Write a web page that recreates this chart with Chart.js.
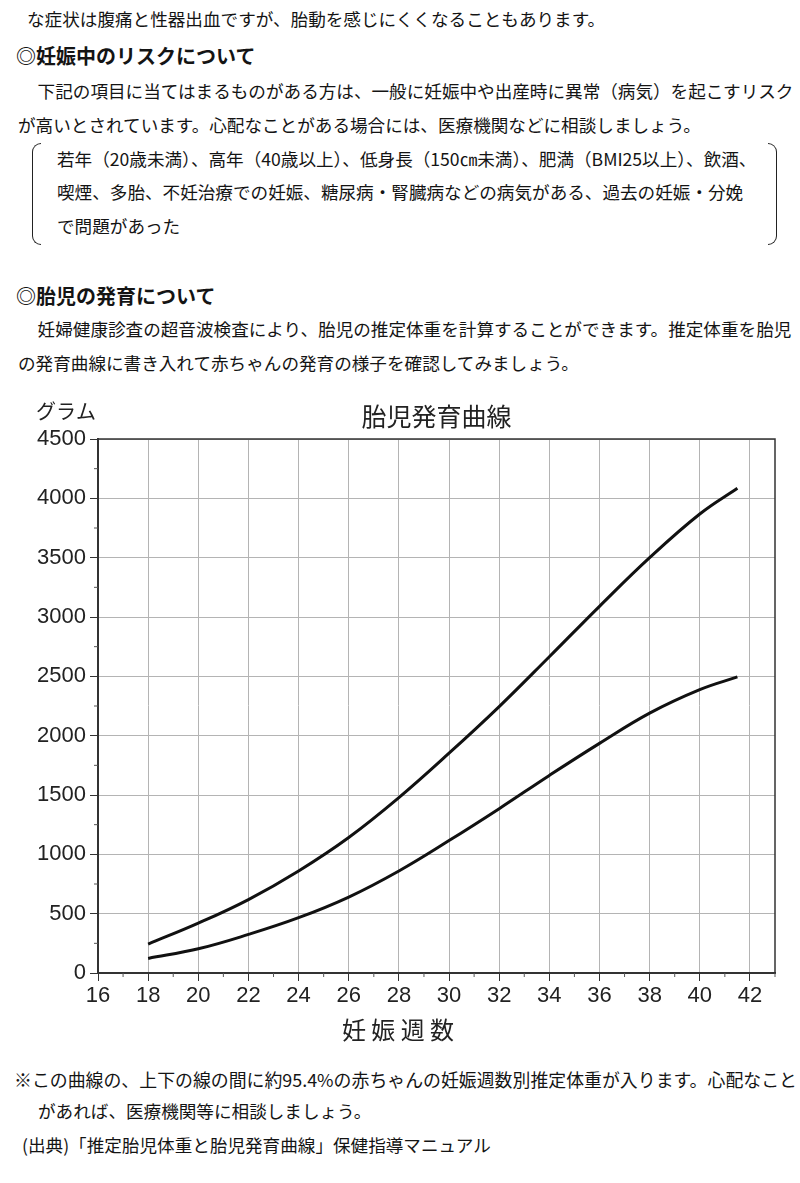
<!DOCTYPE html>
<html lang="ja">
<head>
    <meta charset="UTF-8">
    <title>胎児発育曲線</title>
    <script src="https://cdn.jsdelivr.net/npm/chart.js"></script>
    <style>
        body {
            margin: 0;
            width: 800px;
            height: 1183px;
            position: relative;
            overflow: hidden;
            background: #ffffff;
            color: #141414;
            font-family: "Noto Sans CJK JP", sans-serif;
        }
        .line {
            position: absolute;
            height: 24px;
            line-height: 24px;
            font-size: 17.6px;
            white-space: nowrap;
        }
        .head {
            font-size: 20px;
            font-weight: 700;
        }
        .brk {
            position: absolute;
            top: 143px;
            width: 8px;
            height: 100px;
            border: 1.5px solid #222;
        }
        #chartBox {
            position: absolute;
            left: 0;
            top: 390px;
            width: 800px;
            height: 660px;
        }
    </style>
</head>
<body>
    <div class="line" style="left:27px; top:7px;">な症状は腹痛と性器出血ですが、胎動を感じにくくなることもあります。</div>
    <div class="line head" style="left:16px; top:44px;">◎妊娠中のリスクについて</div>
    <div class="line" style="left:20px; top:79px;">　下記の項目に当てはまるものがある方は、一般に妊娠中や出産時に異常（病気）を起こすリスク</div>
    <div class="line" style="left:18px; top:113px;">が高いとされています。心配なことがある場合には、医療機関などに相談しましょう。</div>

    <div class="brk" style="left:32px; border-right:none; border-radius:10px 0 0 10px;"></div>
    <div class="brk" style="left:768px; border-left:none; border-radius:0 10px 10px 0;"></div>
    <div class="line" style="left:57px; top:147px;">若年（20歳未満）、高年（40歳以上）、低身長（150㎝未満）、肥満（BMI25以上）、飲酒、</div>
    <div class="line" style="left:57px; top:180px;">喫煙、多胎、不妊治療での妊娠、糖尿病・腎臓病などの病気がある、過去の妊娠・分娩</div>
    <div class="line" style="left:57px; top:214px;">で問題があった</div>

    <div class="line head" style="left:16px; top:284px;">◎胎児の発育について</div>
    <div class="line" style="left:20px; top:317px;">　妊婦健康診査の超音波検査により、胎児の推定体重を計算することができます。推定体重を胎児</div>
    <div class="line" style="left:18px; top:351px;">の発育曲線に書き入れて赤ちゃんの発育の様子を確認してみましょう。</div>

    <div id="chartBox"><canvas id="chart" width="800" height="660"></canvas></div>

    <div class="line" style="left:14px; top:1067px; font-size:17.9px;">※この曲線の、上下の線の間に約95.4%の赤ちゃんの妊娠週数別推定体重が入ります。心配なこと</div>
    <div class="line" style="left:38px; top:1099px;">があれば、医療機関等に相談しましょう。</div>
    <div class="line" style="left:22px; top:1133px;">(出典)「推定胎児体重と胎児発育曲線」保健指導マニュアル</div>

    <script>
        // 妊娠週数と推定体重（グラム）… 上の線 = +2.0SD, 下の線 = -2.0SD
        const weeks = [18, 20, 22, 24, 26, 28, 30, 32, 34, 36, 38, 40, 41.5];
        const upperWeights = [244, 420, 619, 860, 1142, 1478, 1852, 2245, 2665, 3090, 3500, 3868, 4085];
        const lowerWeights = [123, 204, 325, 466, 640, 860, 1116, 1385, 1665, 1935, 2190, 2388, 2495];

        const chartTitle = '胎児発育曲線';
        const yUnit = 'グラム';
        const xTitle = '妊 娠 週 数';
        const xMin = 16, xMax = 43, xStep = 2;
        const yMin = 0, yMax = 4500, yStep = 500;

        const toPoints = (ys) => weeks.map((w, i) => ({ x: w, y: ys[i] }));

        // 枠線・補助目盛・文字
        const extrasPlugin = {
            id: 'extras',
            afterDraw(chart) {
                const { ctx, chartArea: a, scales } = chart;
                ctx.save();
                ctx.strokeStyle = '#333';
                ctx.lineWidth = 1.5;
                ctx.beginPath();
                ctx.moveTo(a.left, a.top);
                ctx.lineTo(a.right, a.top);
                ctx.lineTo(a.right, a.bottom);
                ctx.stroke();

                // 補助目盛
                ctx.lineWidth = 1;
                ctx.strokeStyle = '#555';
                ctx.beginPath();
                for (let w = xMin + 1; w <= xMax; w += 2) {
                    const px = scales.x.getPixelForValue(w);
                    ctx.moveTo(px, a.bottom);
                    ctx.lineTo(px, a.bottom + 4);
                }
                for (let g = yMin + yStep / 2; g < yMax; g += yStep) {
                    const py = scales.y.getPixelForValue(g);
                    ctx.moveTo(a.left, py);
                    ctx.lineTo(a.left - 4, py);
                }
                ctx.stroke();

                ctx.fillStyle = '#222';
                ctx.textBaseline = 'middle';
                ctx.font = '20px "Noto Sans CJK JP"';
                ctx.textAlign = 'left';
                ctx.fillText(yUnit, 36, 21);
                ctx.font = '25px "Noto Sans CJK JP"';
                ctx.textAlign = 'center';
                ctx.fillText(chartTitle, (a.left + a.right) / 2, 26);
                ctx.font = '24px "Noto Sans CJK JP"';
                ctx.fillText(xTitle, 398, 640);
                ctx.restore();
            }
        };

        const lineStyle = {
            borderColor: '#111',
            borderWidth: 3,
            pointRadius: 0,
            fill: false,
            tension: 0.4
        };

        new Chart(document.getElementById('chart'), {
            type: 'line',
            data: {
                datasets: [
                    { label: '+2.0SD', data: toPoints(upperWeights), ...lineStyle },
                    { label: '-2.0SD', data: toPoints(lowerWeights), ...lineStyle }
                ]
            },
            options: {
                responsive: false,
                animation: false,
                devicePixelRatio: 1,
                layout: { padding: { top: 49, right: 25, left: 0, bottom: 0 } },
                plugins: {
                    legend: { display: false },
                    tooltip: { enabled: false }
                },
                scales: {
                    x: {
                        type: 'linear',
                        min: xMin,
                        max: xMax,
                        afterFit: (s) => { s.height = 77; },
                        ticks: {
                            stepSize: xStep,
                            includeBounds: false,
                            color: '#222',
                            padding: 2,
                            font: { family: '"Liberation Sans", Arial', size: 22 }
                        },
                        grid: { color: '#b4b4b4', lineWidth: 1, tickLength: 8, tickColor: '#333' },
                        border: { color: '#333', width: 2 }
                    },
                    y: {
                        min: yMin,
                        max: yMax,
                        afterFit: (s) => { s.width = 98; },
                        ticks: {
                            stepSize: yStep,
                            color: '#222',
                            padding: 4,
                            callback: (v) => String(v),
                            font: { family: '"Liberation Sans", Arial', size: 22 }
                        },
                        grid: { color: '#b4b4b4', lineWidth: 1, tickLength: 8, tickColor: '#333' },
                        border: { color: '#333', width: 2 }
                    }
                }
            },
            plugins: [extrasPlugin]
        });
    </script>
</body>
</html>
